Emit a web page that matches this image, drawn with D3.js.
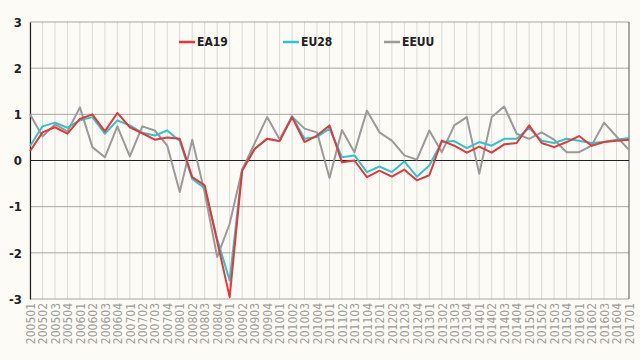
<!DOCTYPE html>
<html><head><meta charset="utf-8">
<script src="https://cdn.jsdelivr.net/npm/d3@7"></script>
<style>
html,body{margin:0;padding:0;background:#fdfbf5;}
svg{display:block;}
text{font-family:"Liberation Sans Narrow","Arial Narrow","DejaVu Sans Condensed",sans-serif;}
</style></head><body>
<svg id="c" width="640" height="360"></svg>
<script>
const quarters = [];
for (let y = 2005; y <= 2017; y++) for (let q = 1; q <= 4; q++) { if (y === 2017 && q > 1) break; quarters.push(y + "0" + q); }

const seriesNames = ["EA19", "EU28", "EEUU"];
const ea19 = [0.2,0.61,0.72,0.58,0.9,1.0,0.63,1.03,0.72,0.59,0.45,0.5,0.47,-0.36,-0.54,-1.75,-2.96,-0.22,0.25,0.47,0.42,0.94,0.4,0.54,0.76,-0.04,0.0,-0.36,-0.22,-0.35,-0.2,-0.43,-0.32,0.43,0.32,0.17,0.3,0.17,0.35,0.38,0.76,0.38,0.29,0.4,0.53,0.32,0.4,0.43,0.45];
const eu28 = [0.31,0.74,0.82,0.71,0.87,0.94,0.58,0.87,0.76,0.6,0.54,0.65,0.42,-0.4,-0.6,-1.7,-2.6,-0.2,0.25,0.47,0.42,0.96,0.47,0.51,0.69,0.07,0.11,-0.25,-0.13,-0.25,-0.02,-0.35,-0.11,0.4,0.42,0.27,0.4,0.32,0.47,0.47,0.71,0.43,0.38,0.47,0.43,0.38,0.4,0.45,0.49];
const eeuu = [1.0,0.52,0.78,0.63,1.15,0.29,0.07,0.74,0.09,0.74,0.65,0.32,-0.68,0.45,-0.7,-2.09,-1.37,-0.2,0.37,0.94,0.46,0.95,0.69,0.61,-0.38,0.66,0.18,1.08,0.61,0.43,0.11,0.02,0.65,0.18,0.76,0.94,-0.29,0.94,1.17,0.58,0.47,0.61,0.45,0.18,0.18,0.32,0.82,0.52,0.23];
const yTicks = [-3,-2,-1,0,1,2,3];
const colors = ["#e6373c", "#2cc5c9", "#9a9a9a"];

const svg = d3.select("#c");
const m = {l:30, r:11, t:22, b:61};
const W = 640, H = 360;
const x = d3.scalePoint().domain(quarters).range([m.l, W - m.r]);
const y = d3.scaleLinear().domain([-3, 3]).range([H - m.b, m.t]);

// vertical grid
svg.append("g").selectAll("line").data(quarters).join("line")
  .attr("x1", d => x(d)).attr("x2", d => x(d))
  .attr("y1", y(3)).attr("y2", y(-3))
  .attr("stroke", "#dcdad4").attr("stroke-width", 1);
// horizontal grid
svg.append("g").selectAll("line").data(yTicks.filter(d => d !== 0)).join("line")
  .attr("x1", m.l).attr("x2", W - m.r)
  .attr("y1", d => y(d)).attr("y2", d => y(d))
  .attr("stroke", "#a8a6a2").attr("stroke-width", 1);
// right border
svg.append("line").attr("x1", W - m.r).attr("x2", W - m.r).attr("y1", y(3)).attr("y2", y(-3))
  .attr("stroke", "#666").attr("stroke-width", 1);

// y axis
const yAxis = d3.axisLeft(y).tickValues(yTicks).tickFormat(d => String(d)).tickSize(0).tickPadding(8);
const ya = svg.append("g").attr("transform", `translate(${m.l},0)`).call(yAxis);
ya.select(".domain").attr("stroke", "#222").attr("stroke-width", 1.2);
ya.selectAll("text").attr("font-size", 13).attr("font-weight", "bold").attr("fill", "#222")
  .style("font-family", '"Liberation Sans Narrow","DejaVu Sans Condensed",sans-serif');

// zero line
svg.append("line").attr("x1", m.l).attr("x2", W - m.r).attr("y1", y(0)).attr("y2", y(0))
  .attr("stroke", "#222").attr("stroke-width", 1.2);

// x axis labels
const xAxis = d3.axisBottom(x).tickSize(0).tickPadding(0);
const xa = svg.append("g").attr("transform", `translate(0,${y(-3)})`).call(xAxis);
xa.select(".domain").remove();
xa.selectAll("text")
  .attr("transform", "rotate(-90)")
  .attr("text-anchor", "end")
  .attr("x", -4).attr("y", 0).attr("dy", "0.35em")
  .attr("font-size", 12).attr("fill", "#a09e9a");

// lines
const line = d3.line().x((d, i) => x(quarters[i])).y(d => y(d));
const data = [ea19, eu28, eeuu];
[2, 1, 0].forEach(k => {
  svg.append("path").datum(data[k]).attr("d", line)
    .attr("fill", "none").attr("stroke", colors[k]).attr("stroke-width", 2)
    .attr("stroke-linejoin", "round");
});

// legend
const legX = [179, 283, 384];
const lg = svg.append("g");
seriesNames.forEach((n, k) => {
  lg.append("line").attr("x1", legX[k]).attr("x2", legX[k] + 16).attr("y1", 42).attr("y2", 42)
    .attr("stroke", colors[k]).attr("stroke-width", 2.5);
  lg.append("text").attr("x", legX[k] + 18).attr("y", 42).attr("dy", "0.35em")
    .attr("font-size", 12).attr("font-weight", "bold").attr("fill", "#222").text(n);
});
</script>
</body></html>
